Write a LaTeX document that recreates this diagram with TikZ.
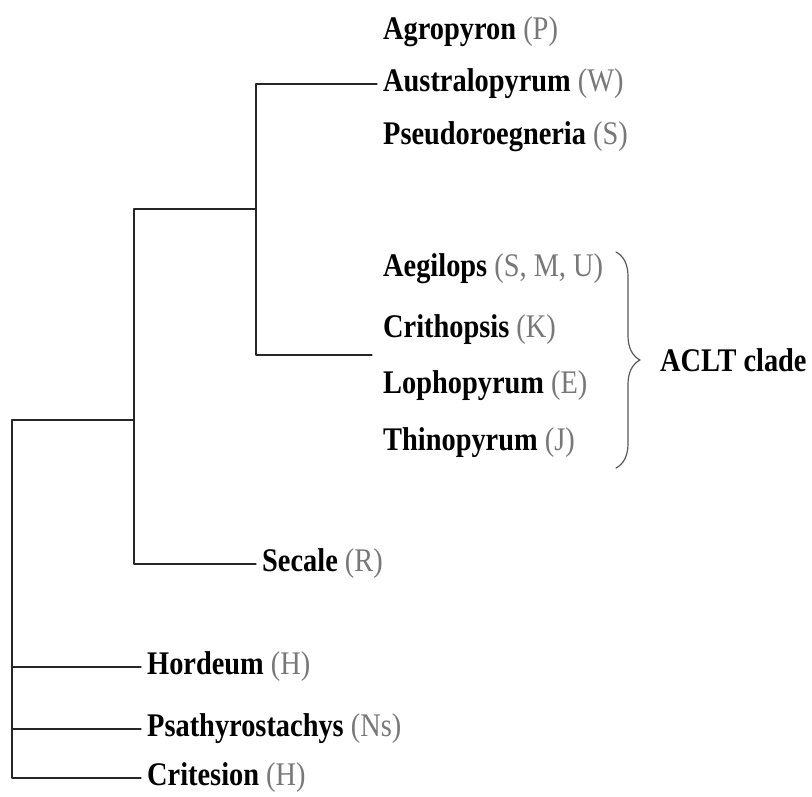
\documentclass[tikz,border=0pt]{standalone}
\usepackage{fontspec}
\setmainfont{Liberation Serif}[FakeStretch=0.86]
\usepackage{tikz}
\usetikzlibrary{decorations.pathreplacing}
\usetikzlibrary{positioning}
\definecolor{ttgray}{rgb}{0.47,0.47,0.47}
\definecolor{bbgray}{rgb}{0.35,0.35,0.35}
\tikzset{
  taxon/.style={anchor=west,inner xsep=6pt,inner ysep=0pt,font=\fontsize{33}{36}\selectfont\bfseries},
  branch/.style={line width=1.2pt,color=black!85},
  cladebrace/.style={decorate,decoration={brace,amplitude=24pt},line width=1.2pt,color=bbgray}
}
\newcommand{\gcode}[1]{{\mdseries\color{ttgray}(#1)}}
\begin{document}
\begin{tikzpicture}[line cap=round,line join=round,x=1pt,y=-1pt]
\useasboundingbox (0,0) rectangle (812,796);
\node[taxon] (agro) at (377,32) {Agropyron \gcode{P}};
\node[taxon] (austr) at (377,84) {Australopyrum \gcode{W}};
\node[taxon] (pseu) at (377,137) {Pseudoroegneria \gcode{S}};
\node[taxon] (aegi) at (377,269) {Aegilops \gcode{S, M, U}};
\node[taxon] (crth) at (377,330) {Crithopsis \gcode{K}};
\node[taxon] (loph) at (377,386) {Lophopyrum \gcode{E}};
\node[taxon] (thin) at (377,443) {Thinopyrum \gcode{J}};
\node[taxon] (seca) at (256,564) {Secale \gcode{R}};
\node[taxon] (hord) at (141,667) {Hordeum \gcode{H}};
\node[taxon] (psat) at (141,729) {Psathyrostachys \gcode{Ns}};
\node[taxon] (crte) at (141,778) {Critesion \gcode{H}};
\coordinate (k0) at (12,420);
\coordinate (k1) at (134,420);
\coordinate (k2) at (256,209);
\coordinate (acl) at (372,355);
\draw[branch] (austr.west) -| (k2) |- (acl);
\draw[branch] (k2) -| (k1) |- (seca.west);
\draw[branch] (k1) -- (k0) |- (crte.west);
\draw[branch] (k0 |- hord.west) -- (hord.west);
\draw[branch] (k0 |- psat.west) -- (psat.west);
\coordinate (bt) at (616,252);
\coordinate (bb) at (616,468);
\coordinate (btip) at (640,360);
\draw[cladebrace] (bt) -- (bb);
\node[taxon] (clade) at ([xshift=14pt]btip) {ACLT clade};
\end{tikzpicture}
\end{document}
